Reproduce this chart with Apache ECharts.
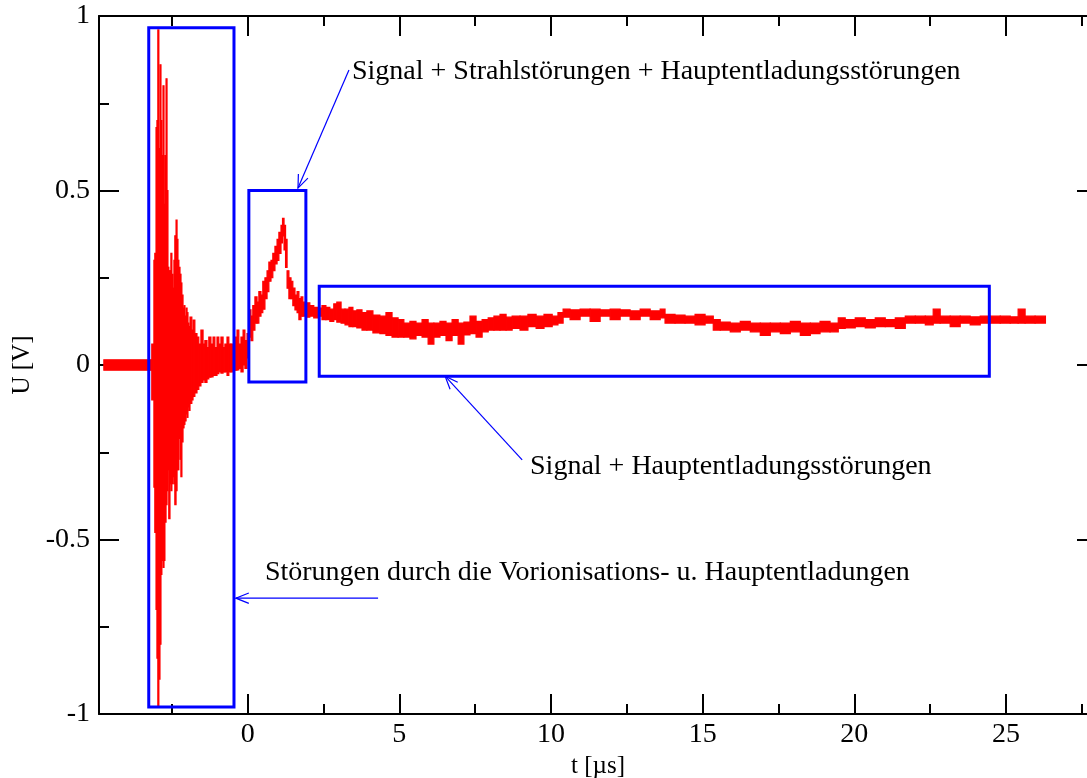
<!DOCTYPE html>
<html><head><meta charset="utf-8">
<script src="https://cdn.jsdelivr.net/npm/echarts@6/dist/echarts.min.js"></script>
<style>html,body{margin:0;padding:0;background:#fff}#c{width:1087px;height:778px}</style>
</head><body><div id="c"></div>
<script>
// signal envelope: time [µs], upper and lower voltage [V]
const tSig = [-4.74,-3.16,-3.09,-3.06,-3.02,-2.99,-2.96,-2.93,-2.89,-2.86,-2.83,-2.79,-2.76,-2.73,-2.69,-2.66,-2.63,-2.60,-2.56,-2.53,-2.50,-2.46,-2.43,-2.40,-2.36,-2.33,-2.30,-2.27,-2.23,-2.20,-2.17,-2.13,-2.10,-2.07,-2.03,-2.00,-1.97,-1.94,-1.90,-1.84,-1.80,-1.74,-1.67,-1.61,-1.54,-1.47,-1.41,-1.34,-1.28,-1.21,-1.14,-1.08,-1.01,-0.95,-0.88,-0.81,-0.75,-0.68,-0.62,-0.55,-0.48,-0.42,-0.35,-0.29,-0.22,-0.15,-0.09,-0.02,
0.04,0.11,0.17,0.24,0.31,0.37,0.44,0.50,0.57,0.64,0.70,0.77,0.83,0.90,0.97,1.03,1.10,1.15,1.20,1.25,1.30,1.36,1.43,1.49,1.56,1.63,1.69,1.76,1.82,1.92,2.05,2.18,2.32,2.45,2.58,2.71,2.84,2.94,3.08,3.21,3.34,3.47,3.60,3.77,3.93,4.13,4.36,4.56,4.76,4.96,5.15,5.35,5.55,5.75,5.95,6.14,6.34,6.54,6.74,6.94,7.13,7.33,7.53,7.73,7.93,8.12,8.32,8.52,8.72,8.98,9.24,9.51,9.77,10.04,10.23,10.40,10.63,10.96,11.29,11.62,11.95,12.28,12.61,12.94,13.27,13.60,13.76,14.09,14.42,14.75,15.08,15.35,15.58,15.91,16.24,16.57,16.90,17.23,17.56,17.89,18.22,18.55,18.87,19.20,19.47,19.70,20.03,20.36,20.69,21.02,21.35,21.68,22.01,22.34,22.60,22.83,23.16,23.49,23.82,24.15,24.48,24.81,25.14,25.40,25.63,25.96,26.30];
const uHi = [0.015,0.06,0.30,0.32,0.68,0.70,0.96,0.62,0.86,0.70,0.60,0.80,0.46,0.60,0.82,0.50,0.28,0.27,0.27,0.32,0.26,0.22,0.30,0.37,0.415,0.36,0.30,0.28,0.26,0.235,0.20,0.163,0.17,0.14,0.163,0.15,0.12,0.11,0.137,0.10,0.129,0.09,0.08,0.06,0.10,0.06,0.07,0.05,0.08,0.06,0.08,0.05,0.08,0.06,0.08,0.05,0.06,0.08,0.06,0.06,0.05,0.08,0.10,0.06,0.08,0.10,0.07,0.09,
0.158,0.14,0.17,0.195,0.18,0.21,0.20,0.24,0.25,0.27,0.295,0.30,0.32,0.34,0.36,0.38,0.40,0.42,0.40,0.36,0.27,0.25,0.24,0.22,0.20,0.21,0.19,0.195,0.18,0.178,0.17,0.165,0.163,0.17,0.165,0.16,0.175,0.18,0.16,0.16,0.165,0.155,0.158,0.15,0.155,0.143,0.14,0.15,0.135,0.13,0.12,0.125,0.12,0.13,0.12,0.12,0.125,0.12,0.13,0.12,0.123,0.14,0.125,0.13,0.135,0.14,0.145,0.137,0.14,0.14,0.145,0.14,0.145,0.14,0.15,0.16,0.158,0.16,0.16,0.158,0.16,0.158,0.155,0.16,0.155,0.16,0.145,0.143,0.14,0.145,0.14,0.13,0.123,0.12,0.125,0.12,0.12,0.12,0.12,0.125,0.12,0.12,0.125,0.12,0.135,0.13,0.135,0.13,0.135,0.13,0.135,0.14,0.14,0.14,0.16,0.14,0.14,0.14,0.138,0.14,0.14,0.14,0.138,0.16,0.14,0.14,0.14];
const uLo = [-0.015,-0.10,-0.35,-0.48,-0.70,-0.84,-0.98,-0.90,-0.80,-0.60,-0.56,-0.58,-0.56,-0.45,-0.40,-0.36,-0.30,-0.44,-0.34,-0.36,-0.34,-0.32,-0.34,-0.40,-0.36,-0.30,-0.30,-0.21,-0.27,-0.32,-0.22,-0.18,-0.17,-0.16,-0.14,-0.15,-0.12,-0.13,-0.11,-0.10,-0.09,-0.08,-0.07,-0.06,-0.05,-0.043,-0.05,-0.04,-0.035,-0.034,-0.03,-0.03,-0.025,-0.02,-0.023,-0.02,-0.02,-0.03,-0.02,-0.02,-0.015,-0.015,-0.014,-0.01,-0.02,0.00,-0.01,0.02,
0.08,0.07,0.10,0.12,0.12,0.14,0.15,0.16,0.19,0.21,0.24,0.25,0.27,0.29,0.30,0.32,0.35,0.37,0.33,0.28,0.22,0.19,0.19,0.17,0.158,0.15,0.13,0.14,0.14,0.137,0.14,0.135,0.14,0.13,0.13,0.125,0.13,0.123,0.12,0.115,0.11,0.11,0.106,0.10,0.10,0.092,0.09,0.085,0.08,0.08,0.08,0.075,0.085,0.08,0.06,0.08,0.085,0.07,0.085,0.06,0.086,0.09,0.08,0.095,0.10,0.10,0.10,0.10,0.105,0.10,0.11,0.105,0.11,0.115,0.12,0.137,0.13,0.14,0.125,0.14,0.13,0.14,0.13,0.14,0.13,0.135,0.12,0.12,0.12,0.115,0.12,0.10,0.10,0.095,0.10,0.095,0.085,0.095,0.09,0.095,0.085,0.09,0.095,0.095,0.105,0.106,0.11,0.106,0.11,0.11,0.105,0.12,0.12,0.115,0.12,0.12,0.11,0.12,0.115,0.12,0.12,0.12,0.12,0.12,0.12,0.12,0.115,0.115];

// annotation boxes [tMin, tMax, uMin, uMax]
const boxes = [[-3.26,-0.45,-0.98,0.966],[0.04,1.92,-0.049,0.50],[2.36,24.45,-0.032,0.226]];
// arrows [tStart, uStart, tEnd, uEnd]
const arrows = [[3.34,0.845,1.66,0.507],[9.05,-0.272,6.51,-0.032],[4.30,-0.668,-0.39,-0.668]];
// annotation texts [t, u, text] (left anchored)
const notes = [[3.44,0.84,'Signal + Strahlstörungen + Hauptentladungsstörungen'],[9.31,-0.292,'Signal + Hauptentladungsstörungen'],[0.57,-0.596,'Störungen durch die Vorionisations- u. Hauptentladungen']];
// tick values
const xMajor = [0,5,10,15,20,25];
const xMinor = [-2.5,2.5,7.5,12.5,17.5,22.5,27.5];

const FONT = "'Liberation Serif','Times New Roman',serif";
const FS = 28;
const sigData = [];
for (let i = 0; i < tSig.length - 1; i++) sigData.push([tSig[i], uLo[i], uHi[i], tSig[i+1]]);

const chart = echarts.init(document.getElementById('c'), null, {renderer:'canvas'});
const axLine = {show:true, onZero:false, lineStyle:{color:'#000', width:2}};
const gridBox = {left:99, top:16, width:998, height:698, containLabel:false, outerBoundsMode:'none'};
const xBase = {type:'value', min:-4.9, max:28, splitLine:{show:false}};
const yBase = {type:'value', min:-1, max:1, interval:0.5, splitLine:{show:false}};
chart.setOption({
  animation:false,
  backgroundColor:'#fff',
  grid:[Object.assign({}, gridBox), Object.assign({}, gridBox)],
  xAxis:[
    Object.assign({}, xBase, {gridIndex:0, position:'bottom', axisLine:axLine,
      axisTick:{show:true, inside:true, length:20, customValues:xMajor, lineStyle:{color:'#000', width:2}},
      axisLabel:{show:true, customValues:xMajor, color:'#000', fontFamily:FONT, fontSize:FS, margin:7},
      name:'t [µs]', nameLocation:'middle', nameGap:37, nameTextStyle:{color:'#000', fontFamily:FONT, fontSize:FS-3}}),
    Object.assign({}, xBase, {gridIndex:0, position:'top', axisLine:axLine,
      axisTick:{show:true, inside:true, length:20, customValues:xMajor, lineStyle:{color:'#000', width:2}},
      axisLabel:{show:false}}),
    Object.assign({}, xBase, {gridIndex:1, position:'bottom', axisLine:{show:false, onZero:false},
      axisTick:{show:true, inside:true, length:10, customValues:xMinor, lineStyle:{color:'#000', width:2}},
      axisLabel:{show:false}}),
    Object.assign({}, xBase, {gridIndex:1, position:'top', axisLine:{show:false, onZero:false},
      axisTick:{show:true, inside:true, length:10, customValues:xMinor, lineStyle:{color:'#000', width:2}},
      axisLabel:{show:false}})
  ],
  yAxis:[
    Object.assign({}, yBase, {gridIndex:0, position:'left', axisLine:axLine,
      axisTick:{show:true, inside:true, length:20, lineStyle:{color:'#000', width:2}},
      minorTick:{show:true, splitNumber:2, length:10, lineStyle:{color:'#000', width:2}},
      axisLabel:{show:true, color:'#000', fontFamily:FONT, fontSize:FS, margin:9},
      name:'U [V]', nameLocation:'middle', nameGap:60, nameRotate:90, nameTextStyle:{color:'#000', fontFamily:FONT, fontSize:FS-3}}),
    Object.assign({}, yBase, {gridIndex:0, position:'right', axisLine:axLine,
      axisTick:{show:true, inside:true, length:20, lineStyle:{color:'#000', width:2}},
      minorTick:{show:true, splitNumber:2, length:10, lineStyle:{color:'#000', width:2}},
      axisLabel:{show:false}}),
    Object.assign({}, yBase, {gridIndex:1, show:false}),
    Object.assign({}, yBase, {gridIndex:1, position:'right', show:false})
  ],
  series:[
    {type:'custom', xAxisIndex:0, yAxisIndex:0, clip:true, data:sigData, z:3,
      renderItem:function(params, api){
        const p1 = api.coord([api.value(0), api.value(2)]);
        const p2 = api.coord([api.value(3), api.value(1)]);
        return {type:'rect', shape:{x:p1[0], y:p1[1], width:Math.max(p2[0]-p1[0],1), height:Math.max(p2[1]-p1[1],1)},
          style:{fill:'#ff0000', stroke:'#ff0000', lineWidth:1.2}};
      }},
    {type:'custom', xAxisIndex:0, yAxisIndex:0, data:boxes, z:4,
      renderItem:function(params, api){
        const a = api.coord([api.value(0), api.value(3)]);
        const b = api.coord([api.value(1), api.value(2)]);
        return {type:'rect', shape:{x:a[0], y:a[1], width:b[0]-a[0], height:b[1]-a[1]},
          style:{fill:null, stroke:'#0000ff', lineWidth:3}};
      }},
    {type:'custom', xAxisIndex:0, yAxisIndex:0, data:arrows, z:4,
      renderItem:function(params, api){
        const s = api.coord([api.value(0), api.value(1)]);
        const e = api.coord([api.value(2), api.value(3)]);
        const ang = Math.atan2(e[1]-s[1], e[0]-s[0]);
        const L = 14, w = 0.38;
        const h1 = [e[0]-L*Math.cos(ang-w), e[1]-L*Math.sin(ang-w)];
        const h2 = [e[0]-L*Math.cos(ang+w), e[1]-L*Math.sin(ang+w)];
        const st = {stroke:'#0000ff', lineWidth:1.2, fill:null};
        return {type:'group', children:[
          {type:'line', shape:{x1:s[0], y1:s[1], x2:e[0], y2:e[1]}, style:st},
          {type:'polyline', shape:{points:[h1, e, h2]}, style:st}
        ]};
      }},
    {type:'custom', xAxisIndex:0, yAxisIndex:0, data:notes, z:5,
      renderItem:function(params, api){
        const p = api.coord([api.value(0), api.value(1)]);
        return {type:'text', x:p[0], y:p[1], style:{text:notes[params.dataIndex][2], fill:'#000',
          font:FS + 'px ' + FONT, textAlign:'left', textVerticalAlign:'middle'}};
      }}
  ]
});
</script></body></html>
